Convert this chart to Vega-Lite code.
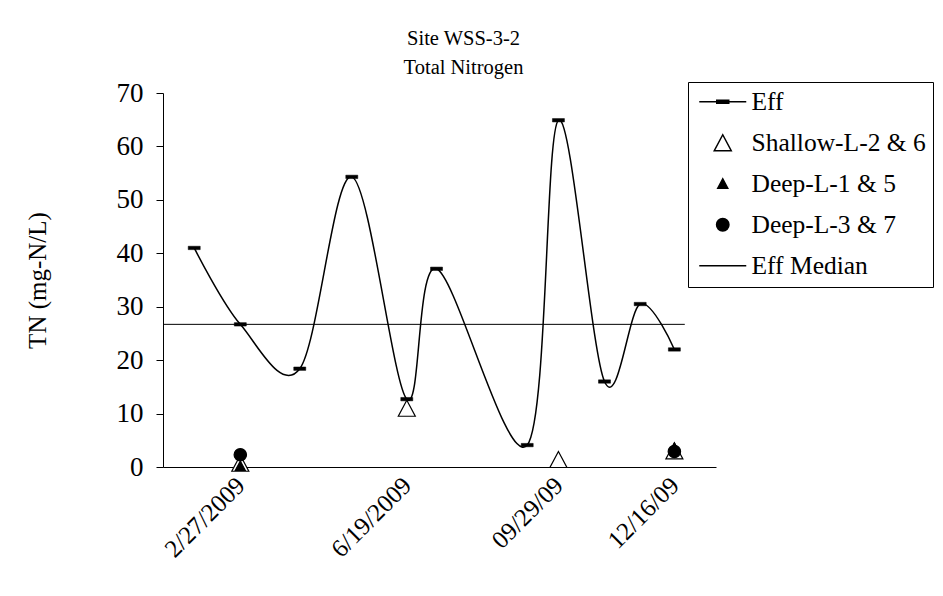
{
  "$schema": "https://vega.github.io/schema/vega-lite/v6.json",
  "autosize": {"type": "none"},
  "padding": {"left": 163, "top": 93, "right": 227, "bottom": 129},
  "width": 553,
  "height": 374,
  "background": "white",
  "config": {
    "view": {"stroke": null},
    "font": "Liberation Serif",
    "axis": {"grid": false, "domainColor": "black", "tickColor": "black", "labelColor": "black", "titleColor": "black", "labelFont": "Liberation Serif", "titleFont": "Liberation Serif", "titleFontWeight": "normal", "labelFontSize": 25, "titleFontSize": 25, "domainWidth": 1, "tickWidth": 1}
  },
  "title": {
    "text": ["Site WSS-3-2", "Total Nitrogen"],
    "font": "Liberation Serif",
    "fontSize": 20.5,
    "fontWeight": "normal",
    "color": "black",
    "lineHeight": 29,
    "anchor": "middle",
    "dx": 24,
    "offset": 1
  },
  "data": {
    "values": [
      {"series": "Eff", "date": "2009-01-27", "value": 41.0},
      {"series": "Eff", "date": "2009-02-27", "value": 26.7},
      {"series": "Eff", "date": "2009-04-08", "value": 18.4},
      {"series": "Eff", "date": "2009-05-13", "value": 54.3},
      {"series": "Eff", "date": "2009-06-19", "value": 12.7},
      {"series": "Eff", "date": "2009-07-09", "value": 37.1},
      {"series": "Eff", "date": "2009-09-08", "value": 4.1},
      {"series": "Eff", "date": "2009-09-29", "value": 64.9},
      {"series": "Eff", "date": "2009-10-30", "value": 16.0},
      {"series": "Eff", "date": "2009-11-23", "value": 30.5},
      {"series": "Eff", "date": "2009-12-16", "value": 22.0},
      {"series": "Shallow-L-2 & 6", "date": "2009-02-27", "value": 0.7},
      {"series": "Shallow-L-2 & 6", "date": "2009-06-19", "value": 11.0},
      {"series": "Shallow-L-2 & 6", "date": "2009-09-29", "value": 1.4},
      {"series": "Shallow-L-2 & 6", "date": "2009-12-16", "value": 3.0},
      {"series": "Deep-L-1 & 5", "date": "2009-02-27", "value": 0.2},
      {"series": "Deep-L-1 & 5", "date": "2009-12-16", "value": 3.6},
      {"series": "Deep-L-3 & 7", "date": "2009-02-27", "value": 2.3},
      {"series": "Deep-L-3 & 7", "date": "2009-12-16", "value": 2.9},
      {"series": "Eff Median", "date": "2009-01-06", "end": "2009-12-23", "value": 26.7}
    ]
  },
  "encoding": {
    "x": {
      "field": "date",
      "type": "temporal",
      "scale": {"type": "utc", "domain": [{"year": 2009, "month": 1, "date": 6, "utc": true}, {"year": 2010, "month": 1, "date": 13, "utc": true}]},
      "axis": {
        "title": null,
        "values": [
          {"year": 2009, "month": 2, "date": 27, "utc": true},
          {"year": 2009, "month": 6, "date": 19, "utc": true},
          {"year": 2009, "month": 9, "date": 29, "utc": true},
          {"year": 2009, "month": 12, "date": 16, "utc": true}
        ],
        "labelExpr": "utcmonth(datum.value)==1 ? '2/27/2009' : utcmonth(datum.value)==5 ? '6/19/2009' : utcmonth(datum.value)==8 ? '09/29/09' : '12/16/09'",
        "labelAngle": -45,
        "labelAlign": "right",
        "labelBaseline": "middle",
        "labelPadding": 14,
        "labelDx": -5,
        "ticks": false,
        "labelOverlap": false,
        "labelFlush": false
      }
    },
    "y": {
      "field": "value",
      "type": "quantitative",
      "scale": {"domain": [0, 70], "nice": false},
      "axis": {
        "title": "TN (mg-N/L)",
        "values": [0, 10, 20, 30, 40, 50, 60, 70],
        "tickSize": 7,
        "labelFontSize": 27,
        "labelPadding": 13,
        "titleX": -126,
        "titleY": 187,
        "titleAlign": "center",
        "titleBaseline": "middle",
        "titleAngle": -90
      }
    }
  },
  "layer": [
    {
      "transform": [{"filter": "datum.series === 'Eff'"}],
      "mark": {"type": "line", "interpolate": "cardinal", "color": "black", "strokeWidth": 1.5},
      "encoding": {}
    },
    {
      "transform": [{"filter": "datum.series === 'Eff Median'"}],
      "mark": {"type": "rule", "color": "black", "strokeWidth": 1},
      "encoding": {"x2": {"field": "end"}}
    },
    {
      "transform": [{"filter": "datum.series === 'Eff'"}],
      "mark": {"type": "point", "shape": "M-0.6,-0.17H0.6V0.17H-0.6Z", "size": 400, "filled": true, "fill": "black", "stroke": "black", "strokeWidth": 0.5, "opacity": 1},
      "encoding": {}
    },
    {
      "transform": [{"filter": "datum.series !== 'Eff' && datum.series !== 'Eff Median'"}],
      "mark": {"type": "point", "size": 400, "stroke": "black", "strokeWidth": 1.2, "opacity": 1, "fillOpacity": 1},
      "encoding": {
        "shape": {
          "field": "series",
          "type": "nominal",
          "scale": {
            "domain": ["Eff", "Shallow-L-2 & 6", "Deep-L-1 & 5", "Deep-L-3 & 7", "Eff Median"],
            "range": [
              "M-2.35,0H2.35M-0.6,-0.15H0.6V0.15H-0.6Z",
              "M0,-0.8L0.85,0.8L-0.85,0.8Z",
              "M0,-0.5L0.5,0.45L-0.5,0.45Z",
              "M0.62,0A0.62,0.62,0,1,1,-0.62,0A0.62,0.62,0,1,1,0.62,0Z",
              "M-2.35,0H2.35"
            ]
          },
          "legend": {
            "title": null,
            "orient": "none",
            "legendX": 525,
            "legendY": -11,
            "strokeColor": "black",
            "fillColor": "white",
            "padding": 7,
            "symbolSize": 400,
            "symbolOffset": 15,
            "labelOffset": 16,
            "labelFont": "Liberation Serif",
            "labelFontSize": 25.5,
            "labelColor": "black",
            "labelLimit": 300,
            "rowPadding": 14,
            "encode": {"symbols": {"update": {"stroke": {"value": "black"}, "strokeWidth": {"value": 1.2}, "opacity": {"value": 1}}}}
          }
        },
        "fill": {
          "field": "series",
          "type": "nominal",
          "scale": {
            "domain": ["Eff", "Shallow-L-2 & 6", "Deep-L-1 & 5", "Deep-L-3 & 7", "Eff Median"],
            "range": ["black", "white", "black", "black", "black"]
          },
          "legend": {
            "title": null,
            "orient": "none",
            "legendX": 525,
            "legendY": -11,
            "strokeColor": "black",
            "fillColor": "white",
            "padding": 7,
            "symbolSize": 400,
            "symbolOffset": 15,
            "labelOffset": 16,
            "labelFont": "Liberation Serif",
            "labelFontSize": 25.5,
            "labelColor": "black",
            "labelLimit": 300,
            "rowPadding": 14,
            "encode": {"symbols": {"update": {"stroke": {"value": "black"}, "strokeWidth": {"value": 1.2}, "opacity": {"value": 1}}}}
          }
        }
      }
    }
  ]
}
